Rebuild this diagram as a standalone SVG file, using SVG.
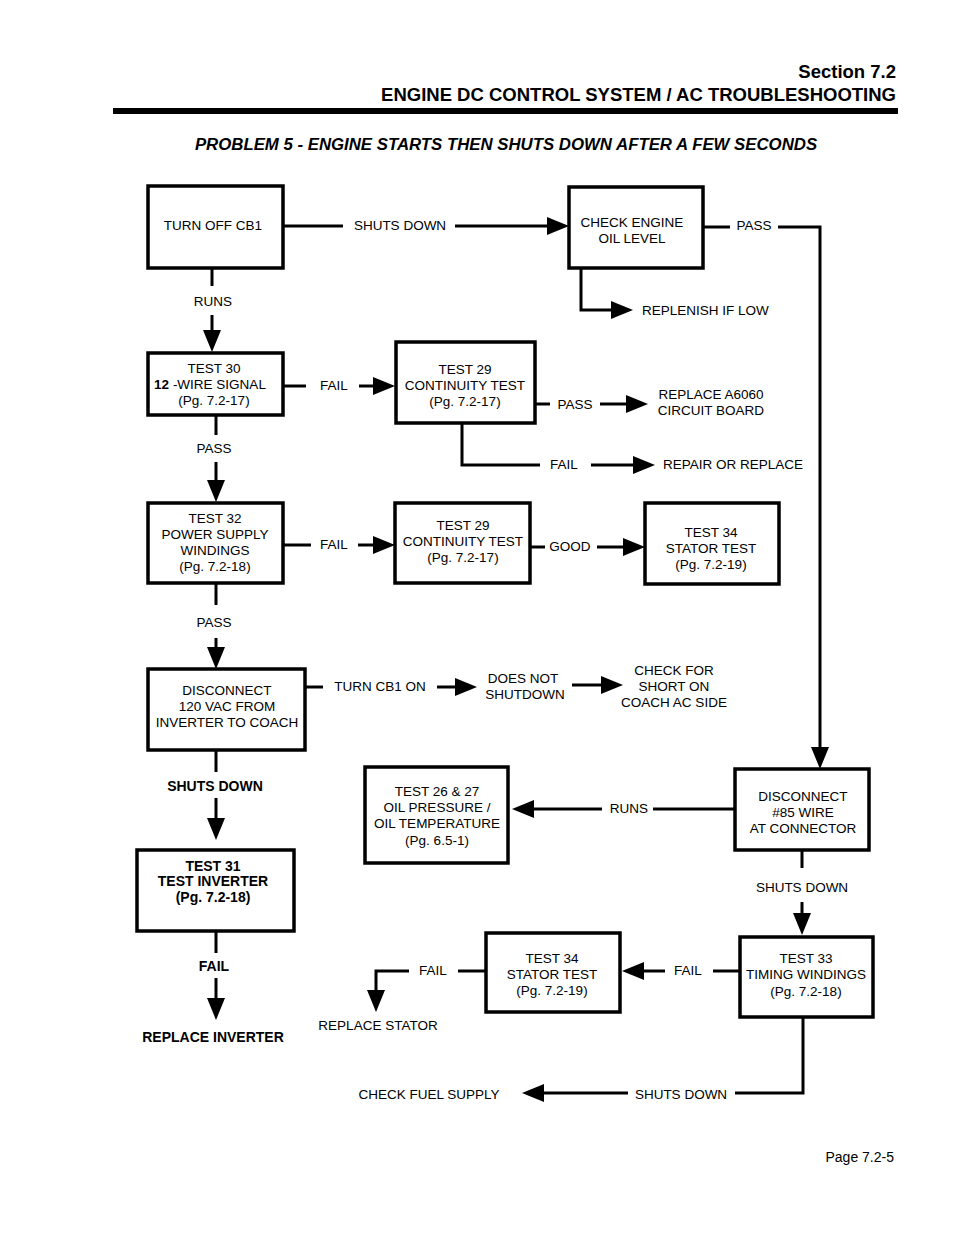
<svg xmlns="http://www.w3.org/2000/svg" width="954" height="1235" viewBox="0 0 954 1235">
<defs>
<marker id="ah" markerUnits="userSpaceOnUse" markerWidth="22" markerHeight="18" viewBox="0 0 22 18" refX="16" refY="9" orient="auto">
<path d="M0,0 L22,9 L0,18 z" fill="#000"/>
</marker>
<style>
.box{fill:#fff;stroke:#000;stroke-width:3.5}
.ln{fill:none;stroke:#000;stroke-width:3}
.ar{fill:none;stroke:#000;stroke-width:3;marker-end:url(#ah)}
text{font-family:"Liberation Sans",Arial,Helvetica,sans-serif;font-size:13.5px;fill:#000;text-anchor:middle}
.b{font-weight:bold;font-size:14px}
.hd{font-weight:bold;font-size:18.5px;text-anchor:end}
.tt{font-weight:bold;font-style:italic;font-size:16.8px}
.st{text-anchor:start}
</style>
</defs>
<rect width="954" height="1235" fill="#fff"/>
<g id="header">
<text class="hd" x="896" y="78">Section 7.2</text>
<text class="hd" x="896" y="101">ENGINE DC CONTROL SYSTEM / AC TROUBLESHOOTING</text>
<rect x="113" y="108" width="785" height="6" fill="#000"/>
<text class="tt" x="506" y="150">PROBLEM 5 - ENGINE STARTS THEN SHUTS DOWN AFTER A FEW SECONDS</text>
</g>
<g id="connectors">
<path class="ln" d="M283,226 H343"/><path class="ar" d="M455,226 H563"/>
<path class="ln" d="M703,227 H730"/><path class="ar" d="M778,227 H820 V763"/>
<path class="ar" d="M581,268 V310 H627"/>
<path class="ln" d="M212,269 V286"/><path class="ar" d="M212,315 V346"/>
<path class="ln" d="M283,386 H306"/><path class="ar" d="M359,386 H389"/>
<path class="ln" d="M536,404 H550"/><path class="ar" d="M600,404 H642"/>
<path class="ln" d="M462,423 V465 H540"/><path class="ar" d="M591,465 H649"/>
<path class="ln" d="M216,415 V435"/><path class="ar" d="M216,462 V496"/>
<path class="ln" d="M283,545 H311"/><path class="ar" d="M358,545 H389"/>
<path class="ln" d="M530,547 H545"/><path class="ar" d="M597,547 H639"/>
<path class="ln" d="M216,583 V605"/><path class="ar" d="M216,638 V663"/>
<path class="ln" d="M306,687 H323"/><path class="ar" d="M437,687 H471"/>
<path class="ar" d="M572,685 H617"/>
<path class="ln" d="M216,751 V772"/><path class="ar" d="M216,798 V834"/>
<path class="ln" d="M735,809 H653"/><path class="ar" d="M602,809 H518"/>
<path class="ln" d="M802,850 V868"/><path class="ar" d="M802,902 V929"/>
<path class="ln" d="M739,971 H713"/><path class="ar" d="M665,971 H628"/>
<path class="ln" d="M486,971 H458"/><path class="ar" d="M409,971 H376 V1006"/>
<path class="ln" d="M803,1017 V1093 H735"/><path class="ar" d="M628,1093 H528"/>
<path class="ln" d="M216,932 V953"/><path class="ar" d="M216,978 V1014"/>
</g>
<g id="labels">
<text x="400" y="230">SHUTS DOWN</text>
<text x="754" y="230">PASS</text>
<text class="st" x="642" y="315">REPLENISH IF LOW</text>
<text x="213" y="306">RUNS</text>
<text x="334" y="390">FAIL</text>
<text x="575" y="409">PASS</text>
<text x="711" y="399">REPLACE A6060</text>
<text x="711" y="415">CIRCUIT BOARD</text>
<text x="564" y="469">FAIL</text>
<text class="st" x="663" y="469">REPAIR OR REPLACE</text>
<text x="214" y="453">PASS</text>
<text x="334" y="549">FAIL</text>
<text x="570" y="551">GOOD</text>
<text x="214" y="627">PASS</text>
<text x="380" y="691">TURN CB1 ON</text>
<text x="523" y="683">DOES NOT</text>
<text x="525" y="699">SHUTDOWN</text>
<text x="674" y="675">CHECK FOR</text>
<text x="674" y="691">SHORT ON</text>
<text x="674" y="707">COACH AC SIDE</text>
<text class="b" x="215" y="791">SHUTS DOWN</text>
<text x="629" y="813">RUNS</text>
<text x="802" y="892">SHUTS DOWN</text>
<text x="688" y="975">FAIL</text>
<text x="433" y="975">FAIL</text>
<text x="378" y="1030">REPLACE STATOR</text>
<text x="681" y="1099">SHUTS DOWN</text>
<text x="429" y="1099">CHECK FUEL SUPPLY</text>
<text class="b" x="214" y="971">FAIL</text>
<text class="b" x="213" y="1042">REPLACE INVERTER</text>
</g>
<g id="n1"><rect class="box" x="148" y="186" width="135" height="82"/><text x="213" y="230">TURN OFF CB1</text></g>
<g id="n2"><rect class="box" x="569" y="187" width="134" height="81"/><text x="632" y="227">CHECK ENGINE</text><text x="632" y="243">OIL LEVEL</text></g>
<g id="n3"><rect class="box" x="148" y="353" width="135" height="62"/><text x="214" y="373">TEST 30</text><text x="210" y="389"><tspan font-weight="bold">12</tspan> -WIRE SIGNAL</text><text x="214" y="405">(Pg. 7.2-17)</text></g>
<g id="n4"><rect class="box" x="396" y="342" width="139" height="81"/><text x="465" y="374">TEST 29</text><text x="465" y="390">CONTINUITY TEST</text><text x="465" y="406">(Pg. 7.2-17)</text></g>
<g id="n5"><rect class="box" x="148" y="503" width="135" height="80"/><text x="215" y="523">TEST 32</text><text x="215" y="539">POWER SUPPLY</text><text x="215" y="555">WINDINGS</text><text x="215" y="571">(Pg. 7.2-18)</text></g>
<g id="n6"><rect class="box" x="395" y="503" width="135" height="80"/><text x="463" y="530">TEST 29</text><text x="463" y="546">CONTINUITY TEST</text><text x="463" y="562">(Pg. 7.2-17)</text></g>
<g id="n7"><rect class="box" x="645" y="503" width="134" height="81"/><text x="711" y="537">TEST 34</text><text x="711" y="553">STATOR TEST</text><text x="711" y="569">(Pg. 7.2-19)</text></g>
<g id="n8"><rect class="box" x="148" y="669" width="157" height="81"/><text x="227" y="695">DISCONNECT</text><text x="227" y="711">120 VAC FROM</text><text x="227" y="727">INVERTER TO COACH</text></g>
<g id="n9"><rect class="box" x="365" y="767" width="143" height="96"/><text x="437" y="796">TEST 26 &amp; 27</text><text x="437" y="812">OIL PRESSURE /</text><text x="437" y="828">OIL TEMPERATURE</text><text x="437" y="845">(Pg. 6.5-1)</text></g>
<g id="n10"><rect class="box" x="735" y="769" width="134" height="81"/><text x="803" y="801">DISCONNECT</text><text x="803" y="817">#85 WIRE</text><text x="803" y="833">AT CONNECTOR</text></g>
<g id="n11"><rect class="box" x="137" y="850" width="157" height="81"/><text class="b" x="213" y="871">TEST 31</text><text class="b" x="213" y="886">TEST INVERTER</text><text class="b" x="213" y="902">(Pg. 7.2-18)</text></g>
<g id="n12"><rect class="box" x="486" y="933" width="134" height="79"/><text x="552" y="963">TEST 34</text><text x="552" y="979">STATOR TEST</text><text x="552" y="995">(Pg. 7.2-19)</text></g>
<g id="n13"><rect class="box" x="740" y="937" width="133" height="80"/><text x="806" y="963">TEST 33</text><text x="806" y="979">TIMING WINDINGS</text><text x="806" y="996">(Pg. 7.2-18)</text></g>
<g id="footer"><text x="894" y="1162" style="text-anchor:end;font-size:14px">Page 7.2-5</text></g>
</svg>
